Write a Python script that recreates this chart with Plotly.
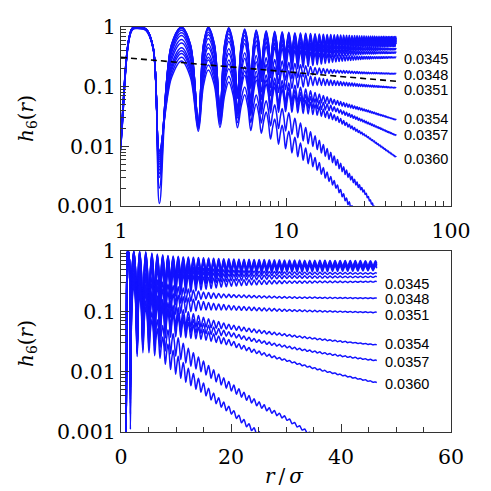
import numpy as np
import plotly.graph_objects as go

#%% DATA

# r/sigma of the oscillation maxima and minima
PEAK_R = [1.25, 2.33, 3.38, 4.50, 5.62, 6.60, 7.58, 8.54, 9.48, 10.40, 11.32, 12.24,
          13.16, 14.08, 15.00, 15.92, 16.84, 17.76, 18.68, 19.60, 20.52, 21.44, 22.36,
          23.28, 24.20, 25.12, 26.04, 26.96, 27.88, 28.80, 29.72, 30.64, 31.56, 32.48,
          33.40, 34.32, 35.24, 36.16, 37.08, 38.00, 38.92, 39.84, 40.76, 41.68, 42.60,
          43.52, 44.44, 45.36, 46.28]
TROUGH_R = [1.71, 2.94, 3.98, 5.08, 6.12, 7.09, 8.06, 9.01, 9.94, 10.86, 11.78, 12.70,
            13.62, 14.54, 15.46, 16.38, 17.30, 18.22, 19.14, 20.06, 20.98, 21.90, 22.82,
            23.74, 24.66, 25.58, 26.50, 27.42, 28.34, 29.26, 30.18, 31.10, 32.02, 32.94,
            33.86, 34.78, 35.70, 36.62, 37.54, 38.46, 39.38, 40.30, 41.22, 42.14, 43.06,
            43.98, 44.90, 45.82]
R_PRE = 0.92
R_START = 1.0
R_END = 46.5

# flat top of the first maximum
PLATEAU_R = [1.17, 1.42]
PLATEAU_H = [0.95, 0.92]

# r/sigma where the envelopes below are read
KNOT_R = [2.33, 3.38, 4.5, 7, 10, 15, 20, 30, 46.5]

PHI = ['0.0327', '0.0330', '0.0333', '0.0336', '0.0339', '0.0342', '0.0345',
       '0.0348', '0.0351', '0.0354', '0.0357', '0.0360', '0.0363', '0.0366']

PRE_H = [0.0006] * 14
START_H = [0.016, 0.0155, 0.015, 0.0145, 0.014, 0.0135, 0.013, 0.0128, 0.0125,
           0.012, 0.0118, 0.0115, 0.0112, 0.011]
FIRST_PEAK_H = [1.0, 1.0, 1.0, 1.0, 1.0, 0.99, 0.99, 0.98, 0.98, 0.97, 0.97, 0.96, 0.95, 0.94]
FIRST_TROUGH_H = [0.0011, 0.002, 0.003, 0.0035, 0.004, 0.0045, 0.005, 0.0055, 0.006,
                  0.0065, 0.007, 0.0075, 0.008, 0.0085]

# upper (peak) and lower (trough) envelopes at KNOT_R
PEAK_0327 = [1.00, 1.00, 0.97, 0.88, 0.82, 0.77, 0.74, 0.71, 0.69]
TROUGH_0327 = [0.015, 0.025, 0.05, 0.22, 0.36, 0.44, 0.49, 0.53, 0.56]
PEAK_0330 = [0.99, 0.98, 0.94, 0.85, 0.79, 0.74, 0.70, 0.67, 0.65]
TROUGH_0330 = [0.016, 0.026, 0.05, 0.20, 0.33, 0.41, 0.46, 0.50, 0.53]
PEAK_0333 = [0.97, 0.95, 0.90, 0.81, 0.75, 0.70, 0.66, 0.63, 0.61]
TROUGH_0333 = [0.017, 0.027, 0.05, 0.19, 0.31, 0.39, 0.43, 0.47, 0.50]
PEAK_0336 = [0.94, 0.90, 0.85, 0.77, 0.71, 0.65, 0.61, 0.59, 0.57]
TROUGH_0336 = [0.018, 0.028, 0.05, 0.18, 0.29, 0.36, 0.40, 0.44, 0.47]
PEAK_0339 = [0.88, 0.82, 0.76, 0.68, 0.60, 0.52, 0.48, 0.45, 0.435]
TROUGH_0339 = [0.019, 0.030, 0.05, 0.16, 0.25, 0.32, 0.37, 0.40, 0.415]
PEAK_0342 = [0.80, 0.74, 0.66, 0.58, 0.51, 0.45, 0.41, 0.39, 0.38]
TROUGH_0342 = [0.020, 0.030, 0.05, 0.14, 0.22, 0.28, 0.32, 0.35, 0.365]
PEAK_0345 = [0.72, 0.64, 0.57, 0.49, 0.43, 0.37, 0.34, 0.32, 0.315]
TROUGH_0345 = [0.021, 0.030, 0.05, 0.12, 0.18, 0.23, 0.26, 0.29, 0.305]
PEAK_0348 = [0.62, 0.52, 0.43, 0.32, 0.26, 0.21, 0.19, 0.175, 0.167]
TROUGH_0348 = [0.021, 0.027, 0.035, 0.08, 0.13, 0.16, 0.17, 0.165, 0.163]
PEAK_0351 = [0.54, 0.45, 0.36, 0.25, 0.19, 0.145, 0.125, 0.108, 0.097]
TROUGH_0351 = [0.020, 0.026, 0.034, 0.06, 0.09, 0.105, 0.105, 0.10, 0.095]
PEAK_0354 = [0.45, 0.36, 0.28, 0.17, 0.12, 0.08, 0.06, 0.042, 0.0282]
TROUGH_0354 = [0.020, 0.025, 0.032, 0.045, 0.055, 0.055, 0.05, 0.039, 0.0275]
PEAK_0357 = [0.40, 0.31, 0.24, 0.14, 0.10, 0.063, 0.045, 0.027, 0.0155]
TROUGH_0357 = [0.019, 0.024, 0.030, 0.04, 0.045, 0.043, 0.038, 0.025, 0.015]
PEAK_0360 = [0.36, 0.28, 0.20, 0.12, 0.085, 0.05, 0.033, 0.016, 0.0067]
TROUGH_0360 = [0.018, 0.023, 0.028, 0.035, 0.038, 0.034, 0.027, 0.015, 0.0065]
PEAK_0363 = [0.31, 0.23, 0.15, 0.065, 0.04, 0.015, 0.0065, 0.0018, 0.00026]
TROUGH_0363 = [0.017, 0.021, 0.025, 0.025, 0.018, 0.0095, 0.0048, 0.0016, 0.00025]
PEAK_0366 = [0.27, 0.19, 0.12, 0.045, 0.02, 0.0065, 0.0025, 0.0005, 0.00004]
TROUGH_0366 = [0.016, 0.019, 0.022, 0.017, 0.009, 0.0043, 0.002, 0.00044, 0.000035]

PEAKS = [PEAK_0327, PEAK_0330, PEAK_0333, PEAK_0336, PEAK_0339, PEAK_0342, PEAK_0345,
         PEAK_0348, PEAK_0351, PEAK_0354, PEAK_0357, PEAK_0360, PEAK_0363, PEAK_0366]
TROUGHS = [TROUGH_0327, TROUGH_0330, TROUGH_0333, TROUGH_0336, TROUGH_0339, TROUGH_0342,
           TROUGH_0345, TROUGH_0348, TROUGH_0351, TROUGH_0354, TROUGH_0357, TROUGH_0360,
           TROUGH_0363, TROUGH_0366]

# dashed reference line (top panel)
DASH_R = [1.0, 46.5]
DASH_H = [0.31, 0.123]

LABELS = ['0.0345', '0.0348', '0.0351', '0.0354', '0.0357', '0.0360']

#%% BUILD

def curve(i):
    lk = np.log10(KNOT_R)
    pr = np.array(PEAK_R)
    tr = np.array(TROUGH_R)
    ph = 10 ** np.interp(np.log10(pr), lk, np.log10(PEAKS[i]))
    th = 10 ** np.interp(np.log10(tr), lk, np.log10(TROUGHS[i]))
    ph[0] = FIRST_PEAK_H[i]
    th[0] = FIRST_TROUGH_H[i]
    # extremes in order of r
    er = np.concatenate([pr, tr])
    eh = np.concatenate([ph, th])
    o = np.argsort(er)
    er, eh = list(er[o]), list(eh[o])
    # plateau of the first maximum
    er = [PLATEAU_R[0], er[0], PLATEAU_R[1]] + er[1:]
    eh = [PLATEAU_H[0] * eh[0], eh[0], PLATEAU_H[1] * eh[0]] + eh[1:]
    # the oscillation is linear in h: half-way points sit at the mean level
    r = [R_PRE, R_START]
    h = [PRE_H[i], START_H[i]]
    for k in range(len(er)):
        r.append(er[k])
        h.append(eh[k])
        if k >= 2 and k + 1 < len(er):
            r.append(0.5 * (er[k] + er[k + 1]))
            h.append(0.5 * (eh[k] + eh[k + 1]))
    r.append(R_END)
    h.append(np.sqrt(PEAKS[i][-1] * TROUGHS[i][-1]))
    return r, h


W = H = 491
OFF = 8  # the page body margin shifts the plot by this many pixels


def px(x):
    return (x - OFF) / W


def py(y):
    return 1 - (y - OFF) / H


BLUE = 'rgb(18,18,255)'

fig = go.Figure()

for i, phi in enumerate(PHI):
    r, h = curve(i)
    for xa, ya in (('x', 'y'), ('x2', 'y2')):
        fig.add_trace(go.Scatter(
            x=r, y=h, mode='lines', name=phi, xaxis=xa, yaxis=ya,
            line=dict(color=BLUE, width=1.5, shape='spline', smoothing=1.0),
            showlegend=False,
        ))

fig.add_trace(go.Scatter(
    x=DASH_R, y=DASH_H, mode='lines', xaxis='x', yaxis='y',
    line=dict(color='black', width=1.6, dash='6px,4px'), showlegend=False,
))

# minor tick positions
log_minor_y = [m * 10.0 ** e for e in (-3, -2, -1) for m in range(2, 10)]
log_minor_x = [m * 10.0 ** e for e in (0, 1) for m in range(2, 10)]

tick_font = dict(family='DejaVu Serif', size=20.5, color='black')
common = dict(
    showline=True, linecolor='#333', linewidth=1.3, mirror=True,
    ticks='inside', ticklen=8, tickwidth=1.1, tickcolor='#333',
    showgrid=False, zeroline=False, tickfont=tick_font, automargin=False,
)
minor_log_y = dict(ticks='inside', ticklen=5, tickwidth=1, tickcolor='#333',
                   tickmode='array', tickvals=log_minor_y)

fig.update_layout(
    width=W, height=H,
    margin=dict(l=0, r=0, t=0, b=0, autoexpand=False),
    paper_bgcolor='white', plot_bgcolor='white',
    xaxis=dict(common, type='log', range=[0, 2], domain=[px(121), px(451)], anchor='y',
               tickvals=[1, 10, 100], ticktext=['1', '10', '100'], ticklabelstandoff=6,
               minor=dict(ticks='inside', ticklen=5, tickwidth=1, tickcolor='#333',
                          tickmode='array', tickvals=log_minor_x)),
    yaxis=dict(common, type='log', range=[-3, 0], domain=[py(206), py(27)], anchor='x',
               tickvals=[0.001, 0.01, 0.1, 1], ticktext=['0.001', '0.01', '0.1', '1'],
               minor=minor_log_y),
    xaxis2=dict(common, range=[0, 60], domain=[px(121), px(451)], anchor='y2',
                tickvals=[0, 20, 40, 60], ticklabelstandoff=6,
                minor=dict(ticks='inside', ticklen=5, tickwidth=1, tickcolor='#333', dtick=5)),
    yaxis2=dict(common, type='log', range=[-3, 0], domain=[py(432), py(251)], anchor='x2',
                tickvals=[0.001, 0.01, 0.1, 1], ticktext=['0.001', '0.01', '0.1', '1'],
                minor=minor_log_y),
)

# curve labels (pixel positions of the text in each panel)
label_top = [59.3, 75, 90, 119.3, 135, 159.3]
label_bot = [284.3, 299, 315, 344, 362.3, 383.7]
for txt, yt, yb in zip(LABELS, label_top, label_bot):
    for xp, yp in ((402, yt), (382.5, yb)):
        fig.add_annotation(
            text=txt, x=px(xp), y=py(yp), xref='paper', yref='paper',
            xanchor='left', yanchor='middle', showarrow=False,
            font=dict(family='Liberation Sans', size=14.5, color='black'),
        )

# axis titles
ytitle = '<i>h</i><sub>6</sub>(<i>r</i>)'
for yp in (119, 344):
    fig.add_annotation(
        text=ytitle, x=px(27), y=py(yp), xref='paper', yref='paper',
        xanchor='center', yanchor='middle', textangle=-90, showarrow=False,
        font=dict(family='DejaVu Serif', size=20, color='black'),
    )
fig.add_annotation(
    text='<i>r</i>\u2009/\u2009<i>σ</i>', x=px(284), y=py(476), xref='paper', yref='paper',
    xanchor='center', yanchor='middle', showarrow=False,
    font=dict(family='DejaVu Serif', size=20, color='black'),
)

fig.write_html('out.html')
